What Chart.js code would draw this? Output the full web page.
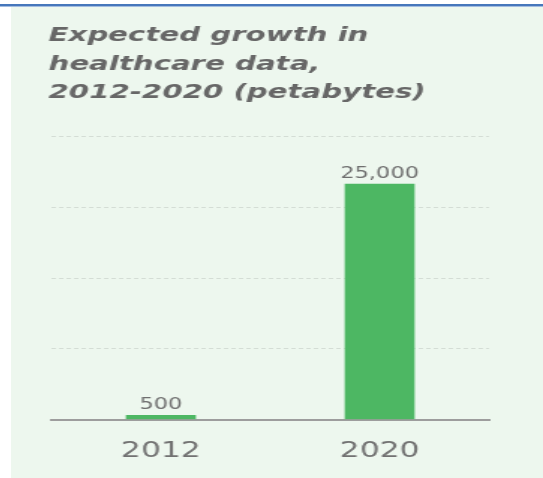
<!DOCTYPE html>
<html>
<head>
<meta charset="utf-8">
<script src="https://cdn.jsdelivr.net/npm/chart.js@4/dist/chart.umd.min.js"></script>
<style>
  html, body { margin: 0; padding: 0; background: #fff; width: 543px; height: 478px; overflow: hidden; }
  .topline { position: absolute; left: 0; top: 4px; width: 543px; height: 2px; background: #4677bb; border-bottom: 1px solid #a3bce0; }
  .panel { position: absolute; left: 11px; top: 7px; width: 532px; height: 471px; background: #edf7ee; overflow: hidden; }
</style>
</head>
<body>
<div class="topline"></div>
<div class="panel">
  <!-- the reference is stretched sideways, so the canvas is drawn narrow and widened -->
  <canvas id="growthChart" width="355" height="476" style="width:532px;height:476px"></canvas>
</div>
<script>
// Chart data
const years = ['2012', '2020'];
const petabytes = [500, 25000];
const titleLines = ['Expected growth in', 'healthcare data,', '2012-2020 (petabytes)'];
const yMax = 30000;
const yStep = 7500;

// Value labels above the bars
const valueLabels = {
    id: 'valueLabels',
    afterDatasetsDraw(chart) {
        const ctx = chart.ctx;
        const meta = chart.getDatasetMeta(0);
        ctx.save();
        ctx.font = '15px "DejaVu Sans"';
        ctx.fillStyle = '#6f6f6f';
        ctx.textAlign = 'center';
        ctx.textBaseline = 'alphabetic';
        meta.data.forEach((bar, i) => {
            ctx.fillText(petabytes[i].toLocaleString('en-US'), bar.x, bar.y - 6);
        });
        ctx.restore();
    }
};

function initGrowthChart() {
    const ctx = document.getElementById('growthChart').getContext('2d');
    new Chart(ctx, {
        type: 'bar',
        data: {
            labels: years,
            datasets: [{
                data: petabytes,
                backgroundColor: '#4db763',
                borderWidth: 0,
                barPercentage: 1,
                categoryPercentage: 0.32
            }]
        },
        options: {
            responsive: false,
            animation: false,
            devicePixelRatio: 1,
            layout: {
                padding: { left: 25, right: 36, top: 0, bottom: 0 }
            },
            plugins: {
                legend: { display: false },
                tooltip: { enabled: false },
                title: {
                    display: true,
                    text: titleLines,
                    align: 'start',
                    color: '#676767',
                    font: { family: 'DejaVu Sans', size: 19.5, style: 'italic', weight: 'bold', lineHeight: '28.5px' },
                    padding: { top: 15, bottom: 29 }
                }
            },
            scales: {
                x: {
                    grid: { display: false, drawTicks: false },
                    border: { display: true, color: '#9d9d9d', width: 2 },
                    ticks: {
                        color: '#727272',
                        font: { family: 'DejaVu Sans', size: 21 },
                        padding: 19
                    }
                },
                y: {
                    min: 0,
                    max: yMax,
                    afterFit(scale) { scale.width = 2; },
                    ticks: { display: false, stepSize: yStep },
                    border: { display: false, dash: [3, 2] },
                    grid: {
                        drawTicks: false,
                        color: 'rgba(0, 0, 0, 0.10)',
                        lineWidth: 1
                    }
                }
            }
        },
        plugins: [valueLabels]
    });
}

document.addEventListener('DOMContentLoaded', () => {
    initGrowthChart();
});
</script>
</body>
</html>
